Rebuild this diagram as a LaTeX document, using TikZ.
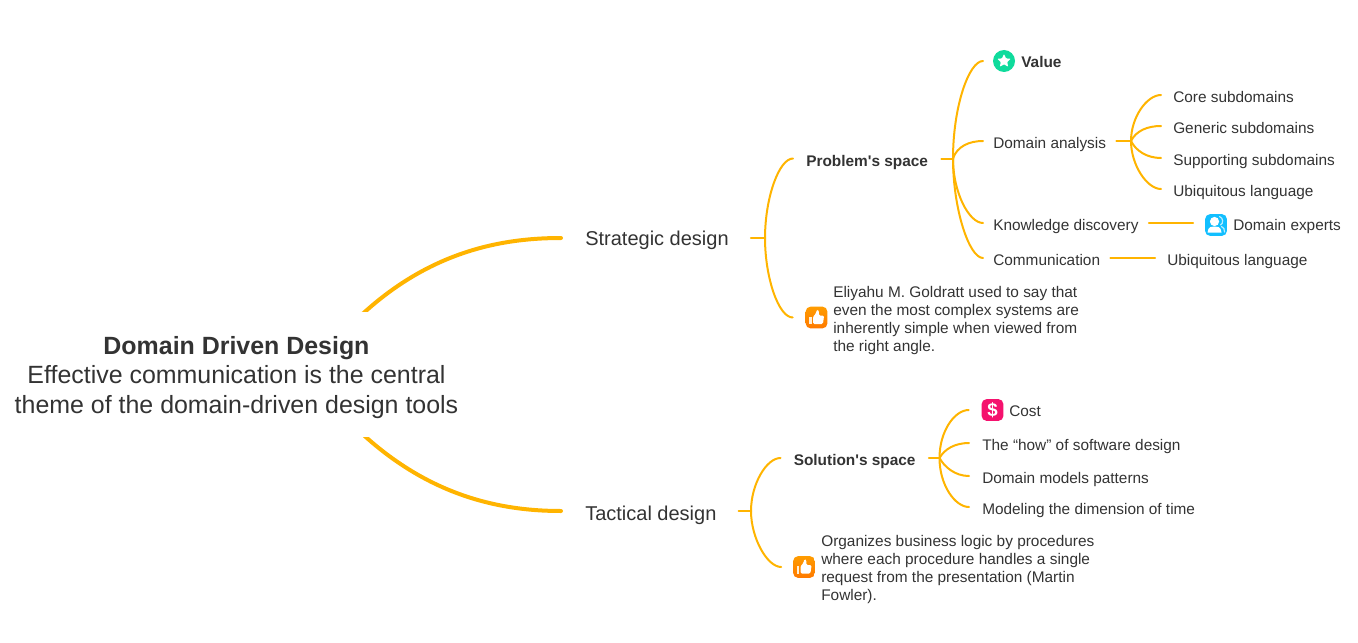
\documentclass[tikz,border=0pt]{standalone}
\usepackage{fontspec}
\setmainfont{Liberation Sans}[Ligatures=TeXOff]
\usetikzlibrary{calc}
\definecolor{lineor}{HTML}{FFB400}
\definecolor{ink}{HTML}{333333}
\definecolor{thumbtop}{HTML}{FF9C00}
\definecolor{thumbbot}{HTML}{FF7A00}
\definecolor{starcol}{HTML}{0FDB9C}
\definecolor{moneycol}{HTML}{F5126E}
\definecolor{peoplecol}{HTML}{12BFFF}
\tikzset{
  x=0.75pt,y=-0.75pt,
  every node/.style={text=ink,inner ysep=0pt},
  linebase/.style={draw=lineor,line width=1.5pt,line cap=round},
  mainline/.style={draw=lineor,line width=3pt,line cap=round},
  rootbox/.style={align=center,font=\fontsize{18.7pt}{22.3pt}\selectfont,minimum height=94.5pt,inner xsep=0pt},
  maintxt/.style={font=\fontsize{15pt}{18pt}\selectfont,text height=13pt,text depth=2.5pt,inner xsep=16.5pt},
  boldtxt/.style={font=\fontsize{11.55pt}{13pt}\selectfont\bfseries,text height=13.5pt,text depth=2.25pt,inner xsep=9.75pt},
  leaftxt/.style={font=\fontsize{11.53pt}{13.5pt}\selectfont,text height=13.5pt,text depth=2.25pt,anchor=west},
  sepa/.style={inner xsep=7.5pt},
  sepb/.style={inner xsep=9pt},
  sepc/.style={inner xsep=9.75pt},
  notetxt/.style={font=\fontsize{11.55pt}{13.5pt}\selectfont,align=left,anchor=west,inner xsep=0pt},
  iconbox/.style={minimum size=16.2pt,inner sep=0pt,rounded corners=3.5pt,anchor=center},
  thumbbox/.style={iconbox,top color=thumbtop,bottom color=thumbbot},
}
\newcommand{\thumbglyph}[1]{%
  \begin{scope}[shift={(#1.center)}]
    \fill[white!85!thumbtop] (-7.5,-1) rectangle (-5,6.5);
    \fill[white,rounded corners=1pt] (-3.5,-1) -- (-0.5,-4) -- (0.3,-8) -- (2.5,-7) -- (2.2,-2) -- (7.6,-2) -- (6.4,6.5) -- (-3.5,6.5) -- cycle;
  \end{scope}}
\begin{document}
\begin{tikzpicture}
\useasboundingbox (0,0) rectangle (1358,642);
% text nodes
\node[rootbox] (root) at (236.5,377.5) {\textbf{Domain Driven Design}\\Effective communication is the central\\theme of the domain-driven design tools};
\node[maintxt,anchor=west] (strat) at (563,238) {Strategic design};
\node[maintxt,anchor=west,text height=16pt] (tact) at (563,511) {Tactical design};
\node[boldtxt,anchor=west] (prob) at (793,158.5) {Problem's space};
\node[boldtxt,anchor=west] (sol) at (780.5,458) {Solution's space};
% icons
\node[iconbox,circle,minimum size=16.5pt,fill=starcol,outer xsep=7.5pt] (staric) at (1004,61) {};
\node[thumbbox,outer xsep=9.75pt] (thumbA) at (816.5,317.5) {};
\node[thumbbox,outer xsep=9pt] (thumbB) at (804,567) {};
\node[iconbox,fill=moneycol,outer xsep=9.75pt] (moneyic) at (992.5,410) {};
\node[iconbox,fill=peoplecol,outer xsep=9pt] (peopleic) at (1216,225) {};
% leaves, problem space
\node[boldtxt,anchor=west,inner xsep=0pt] (value) at (1021,60) {Value};
\node[leaftxt,sepa] (dom) at (983,141) {Domain analysis};
\node[leaftxt,sepa] (know) at (983,223) {Knowledge discovery};
\node[leaftxt,sepa] (comm) at (983,258) {Communication};
\node[leaftxt,sepb] (core) at (1161,95) {Core subdomains};
\node[leaftxt,sepb] (gene) at (1161,126) {Generic subdomains};
\node[leaftxt,sepb] (supp) at (1161,158) {Supporting subdomains};
\node[leaftxt,sepb] (ubia) at (1161,189) {Ubiquitous language};
\node[leaftxt,inner xsep=0pt] (expert) at (1233,223) {Domain experts};
\node[leaftxt,sepb] (ubib) at (1155,258) {Ubiquitous language};
\node[notetxt] (noteA) at (833,320.5) {Eliyahu M. Goldratt used to say that\\even the most complex systems are\\inherently simple when viewed from\\the right angle.};
% leaves, solution space
\node[leaftxt,inner xsep=0pt] (cost) at (1009,408.5) {Cost};
\node[leaftxt,sepc] (how) at (969,443) {The “how” of software design};
\node[leaftxt,sepc] (models) at (969,476) {Domain models patterns};
\node[leaftxt,sepc] (time) at (969,507) {Modeling the dimension of time};
\node[notetxt] (noteB) at (821,569.5) {Organizes business logic by procedures\\where each procedure handles a single\\request from the presentation (Martin\\Fowler).};
% junctions
\coordinate (jstrat) at (765,238);
\coordinate (jtact) at (751,511);
\coordinate (jprob) at (953,158.5);
\coordinate (jsol) at (939.5,458);
\coordinate (jdom) at (1131,141);
% glyphs
\begin{scope}[shift={(staric.center)}]
  \fill[white,rounded corners=0.6pt] (0,-7) -- (2,-2.6) -- (6.8,-2.2) -- (3.2,1) -- (4.2,5.8) -- (0,3.3) -- (-4.2,5.8) -- (-3.2,1) -- (-6.8,-2.2) -- (-2,-2.6) -- cycle;
\end{scope}
\thumbglyph{thumbA}
\thumbglyph{thumbB}
\node[text=white,font=\fontsize{14pt}{14pt}\selectfont\bfseries,inner sep=0pt] (dollar) at (moneyic.center) {\$};
\begin{scope}[shift={(peopleic.center)}]
  \draw[white!70!peoplecol,line width=0.9pt,line cap=round] (3.5,-8.5) .. controls (7.5,-7) and (7.5,-1.5) .. (4.5,0);
  \draw[white!70!peoplecol,line width=0.9pt,line cap=round] (5.5,1.5) .. controls (8,2.5) and (8.5,4.5) .. (8.5,7);
  \fill[white] (-1.5,-3.5) circle (4.6);
  \fill[white] (-8.5,7.5) .. controls (-8,1) and (-4,1.5) .. (-1.5,1.5) .. controls (1,1.5) and (5,1) .. (5.5,7.5) -- cycle;
\end{scope}
% connectors
\begin{scope}
  \clip (300,0) rectangle (600,311);
  \draw[mainline] ([xshift=94.1pt]root.north) ++(-3.5,3.5) .. controls (428,252) and (500,238) .. ([xshift=-1.5pt]strat.west);
\end{scope}
\begin{scope}
  \clip (300,437) rectangle (600,642);
  \draw[mainline] ([xshift=94.1pt]root.south) ++(-3.5,-10.5) .. controls (428,496) and (500,511) .. ([xshift=-1.5pt]tact.west);
\end{scope}
\draw[linebase] (strat.east) -- (jstrat);
\draw[linebase] (jstrat) .. controls +(0,-40) and +(-14,0) .. (prob.west);
\draw[linebase] (jstrat) .. controls +(0,40) and +(-14,0) .. (thumbA.west);
\draw[linebase] (tact.east) -- (jtact);
\draw[linebase] (jtact) .. controls +(0,-27) and +(-14,0) .. (sol.west);
\draw[linebase] (jtact) .. controls +(0,27) and +(-14,0) .. (thumbB.west);
\draw[linebase] (prob.east) -- (jprob);
\draw[linebase] (jprob) .. controls +(0,-52) and +(-14,0) .. (staric.west);
\draw[linebase] (jprob) .. controls +(4,-12) and +(-14,0) .. (dom.west);
\draw[linebase] (jprob) .. controls +(0,34) and +(-14,0) .. (know.west);
\draw[linebase] (jprob) .. controls +(0,50) and +(-14,0) .. (comm.west);
\draw[linebase] (dom.east) -- (jdom);
\draw[linebase] (jdom) .. controls +(0,-24) and +(-14,0) .. (core.west);
\draw[linebase] (jdom) .. controls +(5,-10) and +(-14,0) .. (gene.west);
\draw[linebase] (jdom) .. controls +(5,10) and +(-14,0) .. (supp.west);
\draw[linebase] (jdom) .. controls +(0,24) and +(-14,0) .. (ubia.west);
\draw[linebase] (know.east) -- (know.east -| peopleic.west);
\draw[linebase] (comm.east) -- (ubib.west);
\draw[linebase] (sol.east) -- (jsol);
\draw[linebase] (jsol) .. controls +(0,-27) and +(-14,0) .. (moneyic.west);
\draw[linebase] (jsol) .. controls +(5,-9) and +(-14,0) .. (how.west);
\draw[linebase] (jsol) .. controls +(5,9) and +(-14,0) .. (models.west);
\draw[linebase] (jsol) .. controls +(0,27) and +(-14,0) .. (time.west);
\end{tikzpicture}
\end{document}
